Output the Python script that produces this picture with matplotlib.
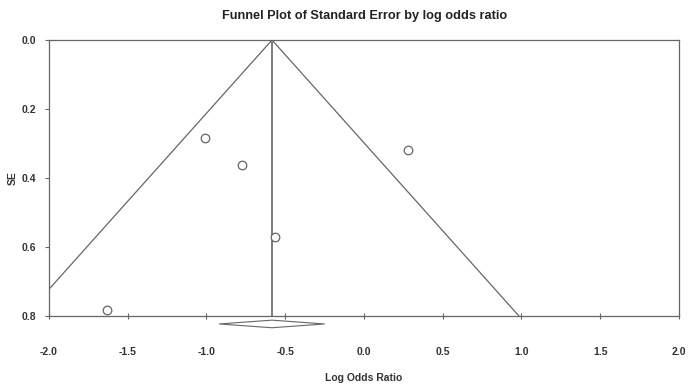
import numpy as np
import matplotlib
matplotlib.use('Agg')
import matplotlib.pyplot as plt

plt.rcParams['font.family'] = ['Liberation Sans', 'DejaVu Sans']

# datos del grafico de embudo
log_or = [-1.63, -1.01, -0.776, -0.565, 0.28]
se = [0.783, 0.283, 0.361, 0.570, 0.319]
efecto_comb = -0.584
ic_comb = (-0.92, -0.25)
x_ticks = [-2.0, -1.5, -1.0, -0.5, 0.0, 0.5, 1.0, 1.5, 2.0]
y_ticks = [0.0, 0.2, 0.4, 0.6, 0.8]

gris = '#666666'
texto = '#333333'

fig = plt.figure(figsize=(6.91, 3.90), dpi=100)
ax = fig.add_axes([0.0709, 0.1897, 0.9117, 0.7077])

# embudo 95%
se_max = 0.8
se_line = np.array([0.0, se_max])
ax.plot(efecto_comb - 1.96 * se_line, se_line, color=gris, lw=0.9)
ax.plot(efecto_comb + 1.96 * se_line, se_line, color=gris, lw=0.9)
ax.axvline(efecto_comb, color=gris, lw=1.2)

# estudios
ax.scatter(log_or, se, s=38, facecolors='white', edgecolors=gris, linewidths=0.9, zorder=3)

# diamante del efecto combinado
y_d = 0.823
h = 0.011
ax.fill([ic_comb[0], efecto_comb, ic_comb[1], efecto_comb],
        [y_d, y_d - h, y_d, y_d + h],
        facecolor='white', edgecolor=gris, lw=0.8, clip_on=False, zorder=4)

ax.set_xlim(-2, 2)
ax.set_ylim(0.8, 0.0)
ax.set_xticks(x_ticks)
ax.set_yticks(y_ticks)
ax.set_xticklabels([f'{t:.1f}' for t in x_ticks], fontweight='bold', color=texto, fontsize=7.5)
ax.set_yticklabels([f'{t:.1f}' for t in y_ticks], fontweight='bold', color=texto, fontsize=7.5)
ax.tick_params(axis='x', direction='inout', length=4, width=0.8, color=gris, pad=20)
ax.tick_params(axis='y', direction='out', length=3, width=0.8, color=gris, pad=6)
for s in ax.spines.values():
    s.set_color(gris)
    s.set_linewidth(0.9)

ax.set_xlabel('Log Odds Ratio', fontweight='bold', fontsize=7.5, color=texto)
ax.xaxis.set_label_coords(0.5, -0.205)
ax.set_ylabel('SE', fontweight='bold', fontsize=7.5, color=texto)
ax.yaxis.set_label_coords(-0.05, 0.5)
fig.suptitle('Funnel Plot of Standard Error by log odds ratio', fontweight='bold',
             fontsize=9.2, color='#222222', x=0.527, y=0.975)

fig.savefig('out.png', dpi=100)
